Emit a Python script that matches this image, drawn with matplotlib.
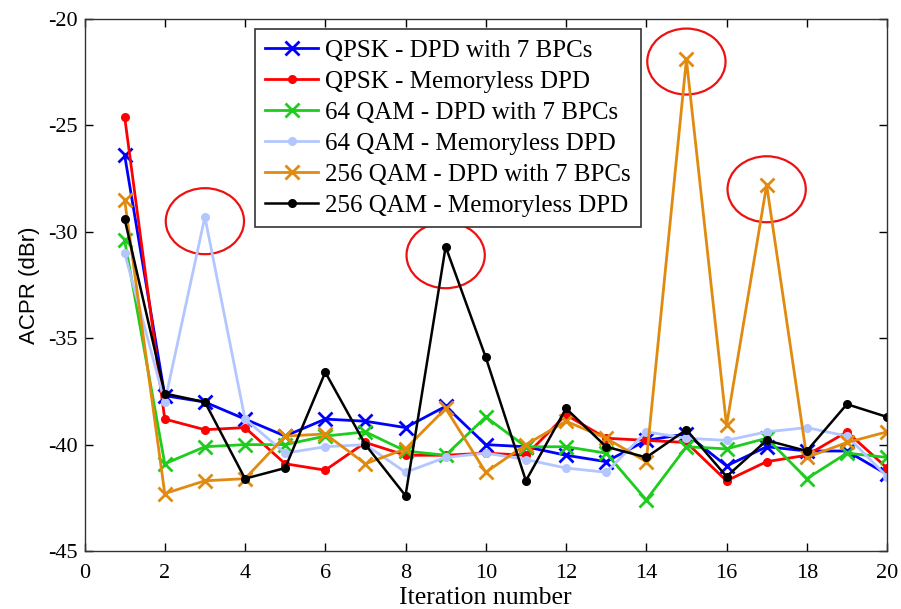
import matplotlib
matplotlib.use("Agg")
import matplotlib.pyplot as plt
from matplotlib.patches import Ellipse

plt.rcParams["axes.unicode_minus"] = False

iterations = list(range(1, 21))

qpsk_bpc = [-26.4, -37.7, -38.0, -38.8, -39.6, -38.8, -38.9, -39.2, -38.2, -40.0,
            -40.1, -40.5, -40.8, -39.8, -39.5, -41.0, -40.1, -40.3, -40.3, -41.4]
qpsk_mem = [-24.6, -38.8, -39.3, -39.2, -40.9, -41.2, -39.9, -40.5, -40.5, -40.4,
            -40.5, -38.6, -39.7, -39.8, -39.9, -41.7, -40.8, -40.5, -39.4, -41.1]
qam64_bpc = [-30.4, -40.9, -40.1, -40.0, -40.0, -39.6, -39.4, -40.3, -40.5, -38.7,
             -40.1, -40.1, -40.4, -42.6, -40.1, -40.2, -39.7, -41.6, -40.4, -40.6]
qam64_mem = [-31.0, -38.0, -29.3, -38.8, -40.4, -40.1, -40.0, -41.3, -40.6, -40.4,
             -40.7, -41.1, -41.3, -39.4, -39.7, -39.8, -39.4, -39.2, -39.6, -41.5]
qam256_bpc = [-28.5, -42.3, -41.7, -41.6, -39.6, -39.5, -40.9, -40.2, -38.3, -41.3,
              -40.0, -38.9, -39.7, -40.8, -21.9, -39.1, -27.8, -40.6, -39.9, -39.4]
qam256_mem = [-29.4, -37.6, -38.0, -41.6, -41.1, -36.6, -40.0, -42.4, -30.7, -35.9,
              -41.7, -38.3, -40.1, -40.6, -39.3, -41.5, -39.8, -40.3, -38.1, -38.7]

labels = ["QPSK - DPD with 7 BPCs", "QPSK - Memoryless DPD",
          "64 QAM - DPD with 7 BPCs", "64 QAM - Memoryless DPD",
          "256 QAM - DPD with 7 BPCs", "256 QAM - Memoryless DPD"]

# highlighted points (x, y)
highlight_x = [3, 9, 15, 17]
highlight_y = [-29.5, -31.1, -22.0, -28.0]

serif = ["Liberation Serif", "DejaVu Serif"]

fig = plt.figure(figsize=(9.01, 6.09), dpi=100)
ax = fig.add_axes([0.0938, 0.0952, 0.8907, 0.8736])

series = [qpsk_bpc, qpsk_mem, qam64_bpc, qam64_mem, qam256_bpc, qam256_mem]
colors = ["#0000ff", "#ff0000", "#1ecc1e", "#b3c6ff", "#e08a10", "#000000"]
markers = ["x", ".", "x", ".", "x", "."]
msizes = [10, 9, 10, 9, 10, 9]
lws = [2.0, 2.0, 2.0, 2.0, 2.0, 1.8]

for s, c, m, ms, lw, lab in zip(series, colors, markers, msizes, lws, labels):
    ax.plot(iterations, s, color=c, marker=m, markersize=ms, linewidth=lw,
            markeredgewidth=2.0, label=lab)

for hx, hy in zip(highlight_x, highlight_y):
    ax.add_patch(Ellipse((hx, hy), width=1.95, height=3.1, fill=False,
                         edgecolor="#ee1111", linewidth=1.6))

ax.set_xlim(0, 20)
ax.set_ylim(-45, -20)
ax.set_xticks(range(0, 21, 2))
ax.set_yticks(range(-45, -19, 5))
ax.tick_params(direction="in", top=True, right=True, length=6, width=1,
               labelsize=16)
ax.tick_params(axis="x", pad=9)
ax.tick_params(axis="y", pad=5)
for lbl in ax.get_xticklabels() + ax.get_yticklabels():
    lbl.set_fontfamily(serif)
for sp in ax.spines.values():
    sp.set_linewidth(1.0)
    sp.set_color("#333333")

ax.set_xlabel("Iteration number", fontsize=18.5, family=serif, labelpad=3)
ax.set_ylabel("ACPR (dBr)", fontsize=16, family=["Liberation Sans", "DejaVu Sans"], labelpad=6)

leg = ax.legend(loc="upper left", bbox_to_anchor=(0.212, 0.981),
                prop={"family": serif, "size": 18}, frameon=True, fancybox=False,
                edgecolor="#333333", framealpha=1.0, handlelength=2.15,
                handletextpad=0.28, labelspacing=0.34, borderpad=0.4,
                borderaxespad=0.0)
leg.get_frame().set_linewidth(1.2)

fig.savefig("out.png", dpi=100)
